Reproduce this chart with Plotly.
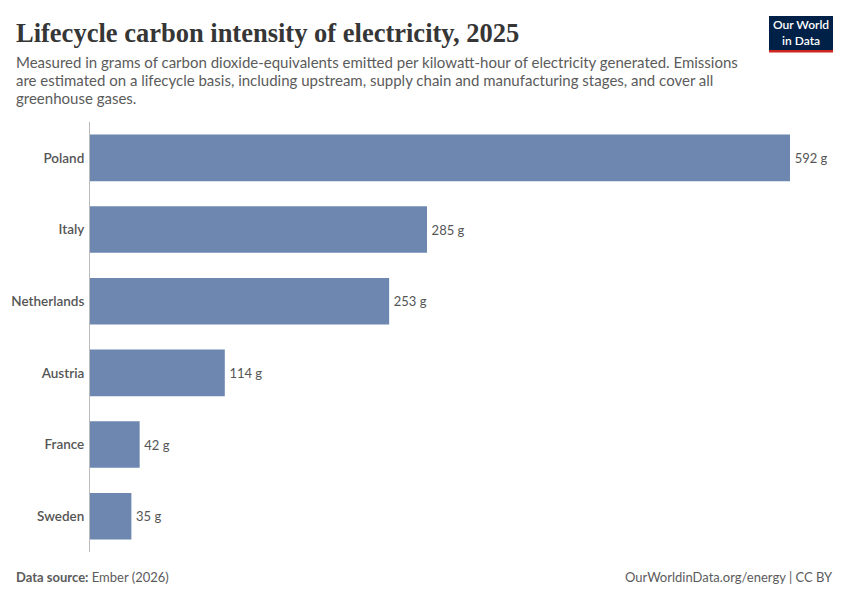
import plotly.graph_objects as go

countries = ["Poland", "Italy", "Netherlands", "Austria", "France", "Sweden"]
values = [592, 285, 253, 114, 42, 35]
value_labels = ["592 g", "285 g", "253 g", "114 g", "42 g", "35 g"]

bar_color = "#6D87B0"

# Page body has an 8px margin: work in screen pixels and shift.
OFF = 8
W, H = 850 - OFF, 600 - OFF
# plot area in screen pixels
PX0, PX1, PY0, PY1 = 90, 790, 122, 552
l, r = PX0 - OFF, W - (PX1 - OFF)
t, b = PY0 - OFF, H - (PY1 - OFF)
pw, ph = W - l - r, H - t - b


def paper(x, y):
    """screen pixel -> paper coords"""
    return (x - OFF - l) / pw, (H - (y - OFF) - b) / ph


fig = go.Figure(go.Bar(
    x=values,
    y=countries,
    orientation="h",
    marker=dict(color=bar_color, line=dict(width=0)),
    width=0.65,
    text=["\u2009" + s for s in value_labels],
    textposition="outside",
    textfont=dict(family="Lato", size=13, color="#555555"),
    cliponaxis=False,
    hoverinfo="skip",
))

fig.update_layout(
    width=W, height=H,
    margin=dict(l=l, r=r, t=t, b=b, autoexpand=False),
    paper_bgcolor="white", plot_bgcolor="white",
    showlegend=False,
    font=dict(family="Lato", color="#555555"),
    xaxis=dict(range=[0, 592], visible=False, fixedrange=True, automargin=False),
    yaxis=dict(
        autorange="reversed", automargin=False,
        showline=True, linecolor="#bbbbbb", linewidth=1,
        showgrid=False, ticks="",
        tickfont=dict(family="Lato", size=13.5, color="#555555", weight=600),
        ticklabelstandoff=2,
    ),
    bargap=0.35,
)


def ann(x, y, text, xanchor="left", yanchor="middle", **font):
    px, py = paper(x, y)
    fig.add_annotation(x=px, y=py, xref="paper", yref="paper",
                       xanchor=xanchor, yanchor=yanchor, align=xanchor if xanchor != "center" else "center",
                       text=text, showarrow=False, font=font)


ann(14, 33, "Lifecycle carbon intensity of electricity, 2025",
    family="Liberation Serif", size=26.5, color="#363636", weight="bold")

sub_lines = [
    "Measured in grams of carbon dioxide-equivalents emitted per kilowatt-hour of electricity generated. Emissions",
    "are estimated on a lifecycle basis, including upstream, supply chain and manufacturing stages, and cover all",
    "greenhouse gases.",
]
for i, line in enumerate(sub_lines):
    ann(14, 62 + 18 * i, line, family="Lato", size=15, color="#5b5b5b")

ann(14, 577, "<b>Data source:</b> Ember (2026)", family="Lato", size=13, color="#5b5b5b")
ann(835, 577, "OurWorldinData.org/energy | CC BY", xanchor="right", family="Lato", size=13, color="#5b5b5b")

# logo
x0, y0 = paper(769, 16)
x1, y1 = paper(833, 50)
fig.add_shape(type="rect", xref="paper", yref="paper", x0=x0, x1=x1, y0=y1, y1=y0,
              fillcolor="#002147", line=dict(width=0), layer="above")
rx0, ry0 = paper(769, 50)
rx1, ry1 = paper(833, 52.5)
fig.add_shape(type="rect", xref="paper", yref="paper", x0=rx0, x1=rx1, y0=ry1, y1=ry0,
              fillcolor="#ce261e", line=dict(width=0), layer="above")
ann(801, 33, "Our World<br>in Data", xanchor="center", family="Lato", size=12, color="white", weight=600)

fig.write_html("out.html")
